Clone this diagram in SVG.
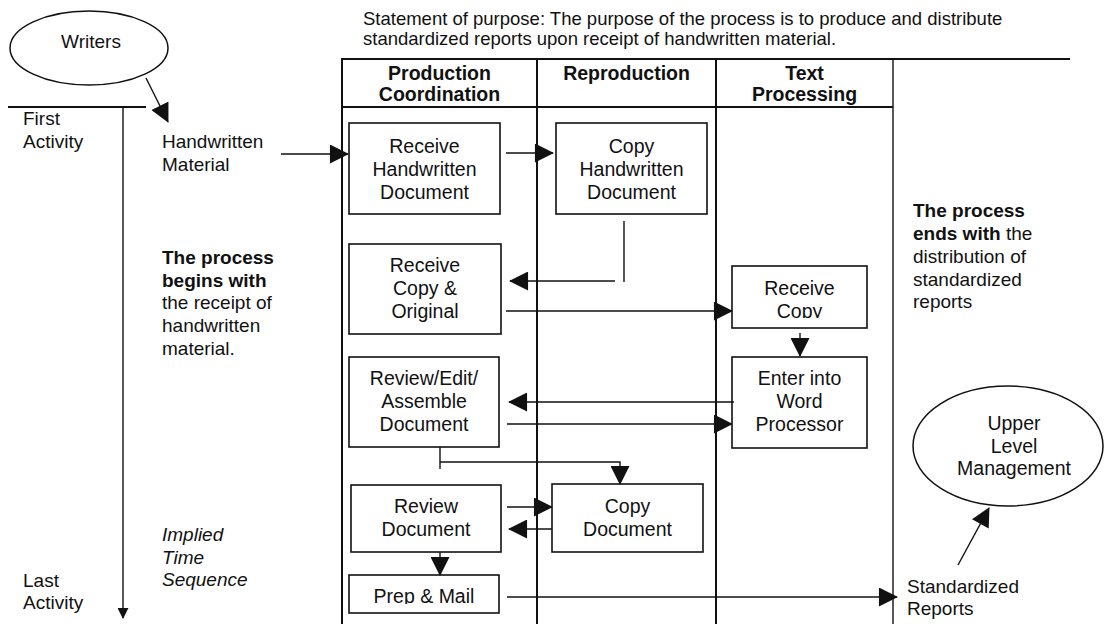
<svg xmlns="http://www.w3.org/2000/svg" width="1108" height="624" viewBox="0 0 1108 624">
<style>
text{font-family:"Liberation Sans",Arial,sans-serif;fill:#111;}
.t{font-size:19px;}
.b{font-size:19.5px;}
.c{text-anchor:middle;}
.h{font-size:19.5px;font-weight:bold;text-anchor:middle;}
.s{font-size:18.5px;}
.bx{fill:#fff;stroke:#111;stroke-width:1.6;}
.ln{fill:none;stroke:#111;stroke-width:1.4;}
.tb{fill:none;stroke:#111;stroke-width:2;}
.el{fill:#fff;stroke:#111;stroke-width:1.5;}
</style>
<defs>
<marker id="ah" viewBox="0 0 20 20" refX="19" refY="10" markerWidth="20" markerHeight="19" markerUnits="userSpaceOnUse" orient="auto">
<path d="M0,0 L20,10 L0,20 Z" fill="#111"/>
</marker>
<marker id="ahs" viewBox="0 0 12 12" refX="11" refY="6" markerWidth="11" markerHeight="11" markerUnits="userSpaceOnUse" orient="auto">
<path d="M0,0 L12,6 L0,12 Z" fill="#111"/>
</marker>
<clipPath id="clipRC"><rect x="732" y="266" width="135" height="52"/></clipPath>
<clipPath id="clipPM"><rect x="349" y="575" width="150" height="29"/></clipPath>
</defs>
<rect width="1108" height="624" fill="#fff"/>

<g id="statement">
<text class="s" x="363" y="25">Statement of purpose: The purpose of the process is to produce and distribute</text>
<text class="s" x="363" y="44.5">standardized reports upon receipt of handwritten material.</text>
</g>

<g id="table">
<line class="tb" x1="342" y1="59" x2="1070" y2="59"/>
<line class="tb" x1="342" y1="107" x2="893" y2="107"/>
<line class="tb" x1="342" y1="58" x2="342" y2="624"/>
<line class="tb" x1="537" y1="58" x2="537" y2="624"/>
<line class="tb" x1="716" y1="58" x2="716" y2="624"/>
<line class="ln" x1="893" y1="58" x2="893" y2="624"/>
<text class="h" x="439.5" y="80">Production</text>
<text class="h" x="439.5" y="101">Coordination</text>
<text class="h" x="626.5" y="80">Reproduction</text>
<text class="h" x="804.5" y="80">Text</text>
<text class="h" x="804.5" y="101">Processing</text>
</g>

<g id="timeline">
<line class="tb" x1="8" y1="107" x2="146" y2="107"/>
<line class="ln" x1="123" y1="107" x2="123" y2="618" marker-end="url(#ahs)"/>
<text class="t" x="23" y="125">First</text>
<text class="t" x="23" y="148">Activity</text>
<text class="t" x="23" y="587">Last</text>
<text class="t" x="23" y="609">Activity</text>
<text class="t" x="162" y="541" font-style="italic">Implied</text>
<text class="t" x="162" y="564" font-style="italic">Time</text>
<text class="t" x="162" y="586" font-style="italic">Sequence</text>
</g>

<g id="writers">
<ellipse class="el" cx="89" cy="48" rx="79" ry="37"/>
<text class="t c" x="91" y="48">Writers</text>
</g>

<g id="handwritten-material">
<text class="t" x="162" y="148">Handwritten</text>
<text class="t" x="162" y="171">Material</text>
</g>

<g id="begins-note">
<text class="t" x="162" y="264" font-weight="bold">The process</text>
<text class="t" x="162" y="287" font-weight="bold">begins with</text>
<text class="t" x="162" y="309">the receipt of</text>
<text class="t" x="162" y="332">handwritten</text>
<text class="t" x="162" y="355">material.</text>
</g>

<g id="ends-note">
<text class="t" x="913" y="217" font-weight="bold">The process</text>
<text class="t" x="913" y="240"><tspan font-weight="bold">ends with</tspan> the</text>
<text class="t" x="913" y="263">distribution of</text>
<text class="t" x="913" y="286">standardized</text>
<text class="t" x="913" y="308">reports</text>
</g>

<g id="receive-handwritten">
<rect class="bx" x="349" y="123" width="151" height="91"/>
<text class="b c" x="424.5" y="153">Receive</text>
<text class="b c" x="424.5" y="176">Handwritten</text>
<text class="b c" x="424.5" y="199">Document</text>
</g>

<g id="copy-handwritten">
<rect class="bx" x="556" y="123" width="151" height="91"/>
<text class="b c" x="631.5" y="153">Copy</text>
<text class="b c" x="631.5" y="176">Handwritten</text>
<text class="b c" x="631.5" y="199">Document</text>
</g>

<g id="receive-copy-original">
<rect class="bx" x="349" y="244" width="152" height="90"/>
<text class="b c" x="425" y="272">Receive</text>
<text class="b c" x="425" y="295">Copy &amp;</text>
<text class="b c" x="425" y="318">Original</text>
</g>

<g id="receive-copy">
<rect class="bx" x="732" y="266" width="135" height="62"/>
<g clip-path="url(#clipRC)">
<text class="b c" x="799.5" y="295">Receive</text>
<text class="b c" x="799.5" y="318">Copy</text>
</g>
</g>

<g id="review-edit">
<rect class="bx" x="349" y="357" width="150" height="90"/>
<text class="b c" x="424" y="385">Review/Edit/</text>
<text class="b c" x="424" y="408">Assemble</text>
<text class="b c" x="424" y="431">Document</text>
</g>

<g id="enter-word">
<rect class="bx" x="732" y="357" width="135" height="91"/>
<text class="b c" x="799.5" y="385">Enter into</text>
<text class="b c" x="799.5" y="408">Word</text>
<text class="b c" x="799.5" y="431">Processor</text>
</g>

<g id="review-document">
<rect class="bx" x="351" y="485" width="150" height="67"/>
<text class="b c" x="426" y="513">Review</text>
<text class="b c" x="426" y="536">Document</text>
</g>

<g id="copy-document">
<rect class="bx" x="552" y="484" width="151" height="68"/>
<text class="b c" x="627.5" y="513">Copy</text>
<text class="b c" x="627.5" y="536">Document</text>
</g>

<g id="prep-mail">
<rect class="bx" x="349" y="575" width="150" height="38"/>
<g clip-path="url(#clipPM)">
<text class="b c" x="424" y="603">Prep &amp; Mail</text>
</g>
</g>

<g id="standardized-reports">
<text class="t" x="907" y="593">Standardized</text>
<text class="t" x="907" y="615">Reports</text>
</g>

<g id="upper-management">
<ellipse class="el" cx="1008" cy="446" rx="95" ry="60"/>
<text class="b c" x="1014" y="430">Upper</text>
<text class="b c" x="1014" y="453">Level</text>
<text class="b c" x="1014" y="475">Management</text>
</g>

<g id="connectors">
<line class="ln" x1="146" y1="78" x2="168" y2="122" marker-end="url(#ah)"/>
<line class="ln" x1="281" y1="154" x2="348" y2="154" marker-end="url(#ah)"/>
<line class="ln" x1="506" y1="153" x2="553" y2="153" marker-end="url(#ah)"/>
<line class="ln" x1="624" y1="221" x2="624" y2="282"/>
<line class="ln" x1="615" y1="281" x2="510" y2="281" marker-end="url(#ah)"/>
<line class="ln" x1="506" y1="311" x2="732" y2="311" marker-end="url(#ah)"/>
<line class="ln" x1="800" y1="333" x2="800" y2="356" marker-end="url(#ah)"/>
<line class="ln" x1="734" y1="402" x2="509" y2="402" marker-end="url(#ah)"/>
<line class="ln" x1="507" y1="424" x2="732" y2="424" marker-end="url(#ah)"/>
<line class="ln" x1="440" y1="447" x2="440" y2="469"/>
<path class="ln" d="M440,462 H620 V484" marker-end="url(#ah)"/>
<line class="ln" x1="507" y1="507" x2="552" y2="507" marker-end="url(#ah)"/>
<line class="ln" x1="552" y1="529" x2="509" y2="529" marker-end="url(#ah)"/>
<line class="ln" x1="440" y1="552" x2="440" y2="575" marker-end="url(#ah)"/>
<line class="ln" x1="507" y1="597" x2="897" y2="597" marker-end="url(#ah)"/>
<line class="ln" x1="958" y1="565" x2="989" y2="508" marker-end="url(#ah)"/>
</g>
</svg>
